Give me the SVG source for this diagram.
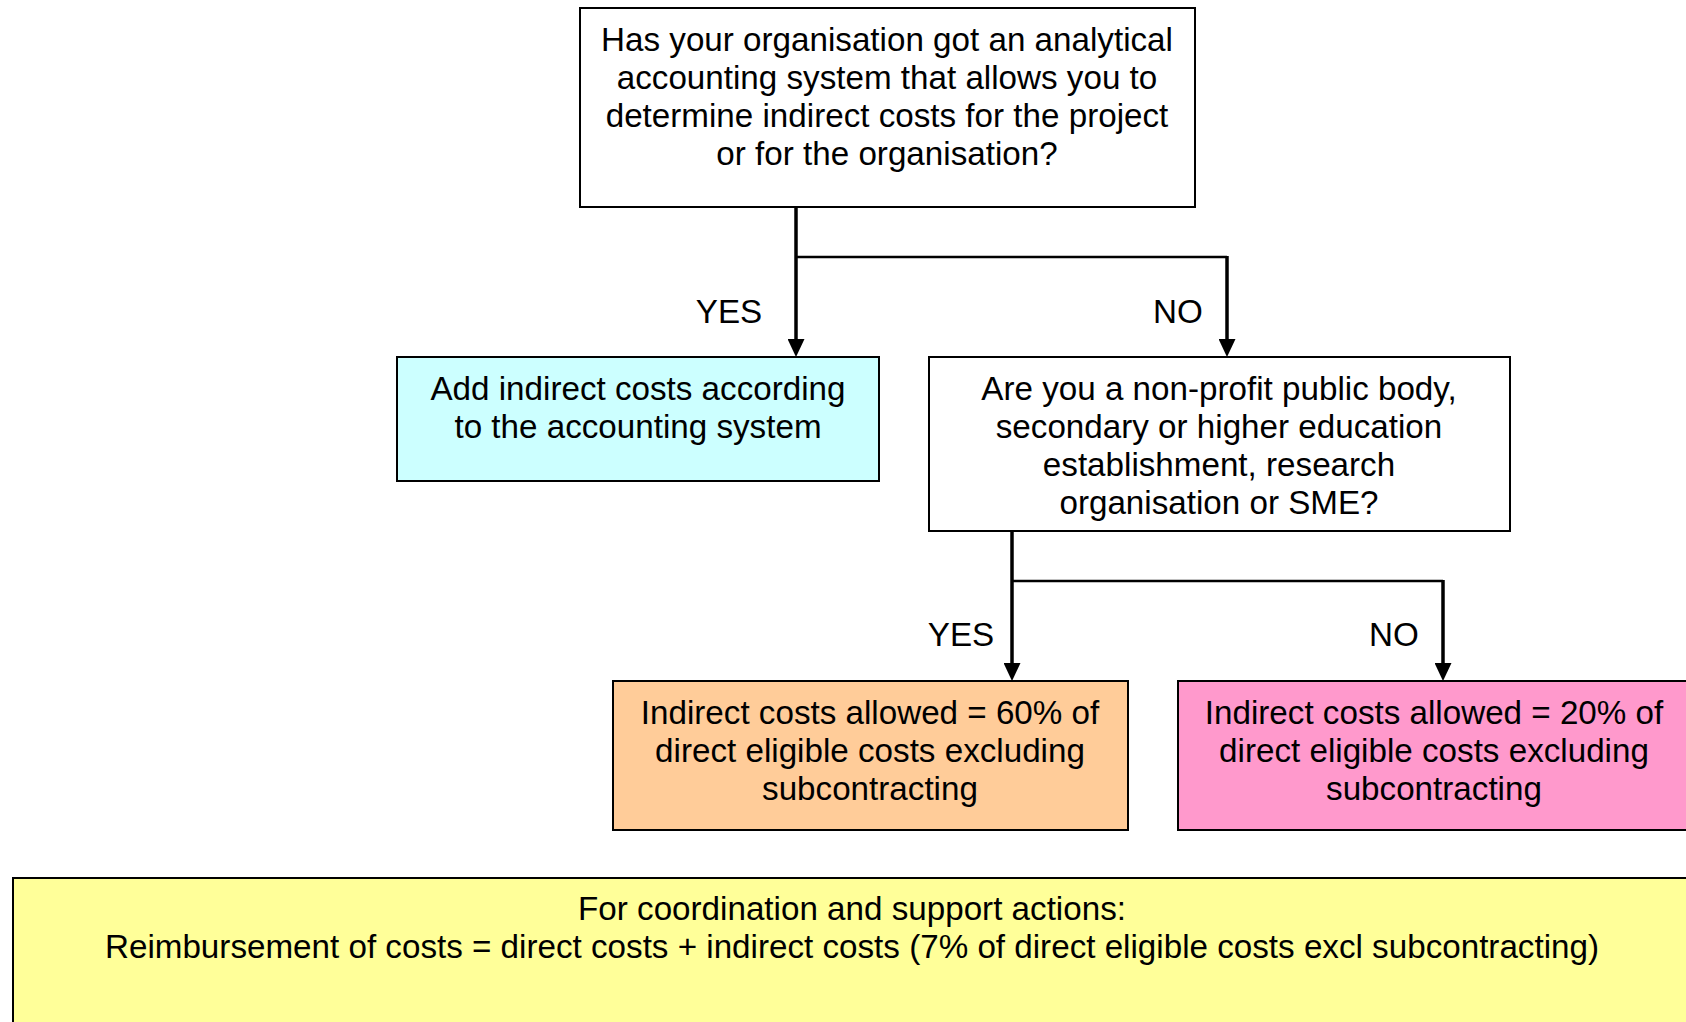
<svg xmlns="http://www.w3.org/2000/svg" width="1686" height="1022" viewBox="0 0 1686 1022">
  <style>
    .box { stroke: #000; stroke-width: 2; }
    .q { fill: #fff; }
    .cyan { fill: #ccffff; }
    .orange { fill: #ffcc99; }
    .pink { fill: #ff99cc; }
    .yellow { fill: #ffff99; }
    text { font-family: "Liberation Sans", Arial, sans-serif; font-size: 33.2px; fill: #000; text-anchor: middle; }
    .conn { fill: none; stroke: #000; stroke-width: 3.5; }
    .branch { fill: none; stroke: #000; stroke-width: 2.5; }
  </style>
  <defs>
    <marker id="arrow" markerUnits="userSpaceOnUse" markerWidth="18" markerHeight="17" viewBox="0 0 18 17" refX="1" refY="8.5" orient="auto">
      <path d="M0,0 L18,8.5 L0,17 Z" fill="#000"/>
    </marker>
  </defs>
  <rect width="1686" height="1022" fill="#fff"/>

  <!-- connectors -->
  <g id="connectors">
    <line class="conn" x1="796" y1="206" x2="796" y2="340" marker-end="url(#arrow)"/>
    <polyline class="branch" points="796,257 1227,257"/>
    <line class="conn" x1="1227" y1="256" x2="1227" y2="340" marker-end="url(#arrow)"/>
    <line class="conn" x1="1012" y1="531" x2="1012" y2="664" marker-end="url(#arrow)"/>
    <polyline class="branch" points="1012,581 1443,581"/>
    <line class="conn" x1="1443" y1="580" x2="1443" y2="664" marker-end="url(#arrow)"/>
    <text x="729" y="322.5">YES</text>
    <text x="1178" y="322.5">NO</text>
    <text x="961" y="645.5">YES</text>
    <text x="1394" y="645.5">NO</text>
  </g>

  <!-- question: accounting system -->
  <g id="q-accounting">
    <rect class="box q" x="580" y="8" width="615" height="199"/>
    <text x="887" y="50.5">Has your organisation got an analytical</text>
    <text x="887" y="88.5">accounting system that allows you to</text>
    <text x="887" y="126.5">determine indirect costs for the project</text>
    <text x="887" y="164.5">or for the organisation?</text>
  </g>

  <!-- outcome: accounting system -->
  <g id="add-indirect">
    <rect class="box cyan" x="397" y="357" width="482" height="124"/>
    <text x="638" y="399.5">Add indirect costs according</text>
    <text x="638" y="437.5">to the accounting system</text>
  </g>

  <!-- question: organisation type -->
  <g id="q-organisation">
    <rect class="box q" x="929" y="357" width="581" height="174"/>
    <text x="1219" y="399.5">Are you a non-profit public body,</text>
    <text x="1219" y="437.5">secondary or higher education</text>
    <text x="1219" y="475.5">establishment, research</text>
    <text x="1219" y="513.5">organisation or SME?</text>
  </g>

  <!-- outcome: 60% -->
  <g id="rate-60">
    <rect class="box orange" x="613" y="681" width="515" height="149"/>
    <text x="870" y="723.5">Indirect costs allowed = 60% of</text>
    <text x="870" y="761.5">direct eligible costs excluding</text>
    <text x="870" y="799.5">subcontracting</text>
  </g>

  <!-- outcome: 20% -->
  <g id="rate-20">
    <rect class="box pink" x="1178" y="681" width="513" height="149"/>
    <text x="1434" y="723.5">Indirect costs allowed = 20% of</text>
    <text x="1434" y="761.5">direct eligible costs excluding</text>
    <text x="1434" y="799.5">subcontracting</text>
  </g>

  <!-- note: coordination and support actions -->
  <g id="csa-note">
    <rect class="box yellow" x="13" y="878" width="1678" height="160"/>
    <text x="852" y="919.5">For coordination and support actions:</text>
    <text x="852" y="957.5">Reimbursement of costs = direct costs + indirect costs (7% of direct eligible costs excl subcontracting)</text>
  </g>
</svg>
